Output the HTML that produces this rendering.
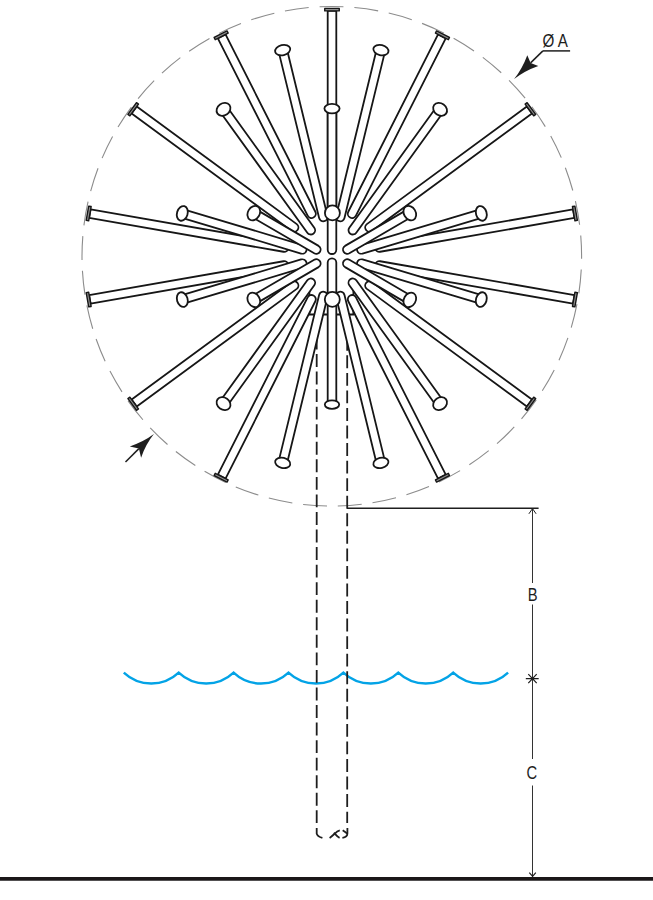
<!DOCTYPE html>
<html><head><meta charset="utf-8"><style>
html,body{margin:0;padding:0;background:#fff;}
body{width:653px;height:900px;overflow:hidden;}
svg{display:block;}
.t path,.t ellipse,.t circle,.t rect{fill:#fff;stroke:#161616;stroke-width:1.8;stroke-linejoin:round;}
.t rect.cap{fill:#8f8f8f;stroke-width:1.4;}
text{font-family:"Liberation Sans",sans-serif;fill:#1e1e1e;}
</style></head><body>
<svg width="653" height="900" viewBox="0 0 653 900">
<circle cx="331.8" cy="256.3" r="249.8" fill="none" stroke="#8c8c8c" stroke-width="1.1" stroke-dasharray="24 10.88" stroke-dashoffset="-13.36"/>
<!-- wave -->
<path d="M123.8,672.6 A40,40 0 0 0 178.7,672.6 A40,40 0 0 0 233.6,672.6 A40,40 0 0 0 288.5,672.6 A40,40 0 0 0 343.4,672.6 A40,40 0 0 0 398.3,672.6 A40,40 0 0 0 453.2,672.6 A40,40 0 0 0 508.1,672.6" fill="none" stroke="#03a3e6" stroke-width="2.4"/>
<!-- pipe -->
<g stroke="#1e1e1e" stroke-width="1.8" fill="none">
<path d="M316.7,300 V823" stroke-dasharray="12.9 4.65" stroke-dashoffset="-1.4"/>
<path d="M347.2,300 V823" stroke-dasharray="12.9 4.65" stroke-dashoffset="-2.7"/>
<path d="M316.7,827.9 V833.6 Q317.3,836.4 322.4,837.9"/>
<path d="M329.6,838 C332,836.5 334,834 335,833.5 C336.5,831.5 338,830.6 339.8,830.3"/>
<path d="M333.8,832.7 C335.5,834 336.5,836.5 339.6,837.8"/>
<path d="M342.4,837.8 C345.5,837.3 347.4,835.8 347.4,833.4 V827.9"/>
<path d="M342.7,830.3 L347.2,833.4"/>
</g>
<rect x="309.4" y="285" width="44" height="29.5" fill="#fff"/><path d="M309.4,285 V314.5 H353.4 V285" fill="none" stroke="#161616" stroke-width="1.8"/>
<g class="t">
<path d="M336.3,213L336.3,10.9L327.7,10.9L327.7,213A4.3,4.3 0 0 0 336.3,213Z"/>
<rect x="330.75" y="2.4" width="2.5" height="14.5" class="cap" transform="rotate(-90 332 9.65)"/>
<path d="M284.94,243.26L90.64,209.46L89.16,217.94L283.46,251.74A4.3,4.3 0 0 0 284.94,243.26Z"/>
<rect x="87.42" y="206.24" width="2.5" height="14.5" class="cap" transform="rotate(-170.13 88.67 213.49)"/>
<path d="M296.75,224.14L136.75,106.54L131.65,113.46L291.65,231.06A4.3,4.3 0 0 0 296.75,224.14Z"/>
<rect x="131.94" y="102.01" width="2.5" height="14.5" class="cap" transform="rotate(-143.68 133.19 109.26)"/>
<path d="M315.34,211.76L225.54,34.46L217.86,38.34L307.66,215.64A4.3,4.3 0 0 0 315.34,211.76Z"/>
<rect x="219.89" y="28.03" width="2.5" height="14.5" class="cap" transform="rotate(-116.86 221.14 35.28)"/>
<path d="M380.14,251.74L574.44,217.94L572.96,209.46L378.66,243.26A4.3,4.3 0 0 0 380.14,251.74Z"/>
<rect x="573.68" y="206.24" width="2.5" height="14.5" class="cap" transform="rotate(-9.87 574.93 213.49)"/>
<path d="M371.95,231.06L531.95,113.46L526.85,106.54L366.85,224.14A4.3,4.3 0 0 0 371.95,231.06Z"/>
<rect x="529.16" y="102.01" width="2.5" height="14.5" class="cap" transform="rotate(-36.32 530.41 109.26)"/>
<path d="M355.94,215.64L445.74,38.34L438.06,34.46L348.26,211.76A4.3,4.3 0 0 0 355.94,215.64Z"/>
<rect x="441.21" y="28.03" width="2.5" height="14.5" class="cap" transform="rotate(-63.14 442.46 35.28)"/>
<path d="M283.46,261.26L89.16,295.06L90.64,303.54L284.94,269.74A4.3,4.3 0 0 0 283.46,261.26Z"/>
<rect x="87.42" y="292.26" width="2.5" height="14.5" class="cap" transform="rotate(170.13 88.67 299.51)"/>
<path d="M291.65,281.94L131.65,399.54L136.75,406.46L296.75,288.86A4.3,4.3 0 0 0 291.65,281.94Z"/>
<rect x="131.94" y="396.49" width="2.5" height="14.5" class="cap" transform="rotate(143.68 133.19 403.74)"/>
<path d="M307.66,297.36L217.86,474.66L225.54,478.54L315.34,301.24A4.3,4.3 0 0 0 307.66,297.36Z"/>
<rect x="219.89" y="470.47" width="2.5" height="14.5" class="cap" transform="rotate(116.86 221.14 477.72)"/>
<path d="M378.66,269.74L572.96,303.54L574.44,295.06L380.14,261.26A4.3,4.3 0 0 0 378.66,269.74Z"/>
<rect x="573.68" y="292.26" width="2.5" height="14.5" class="cap" transform="rotate(9.87 574.93 299.51)"/>
<path d="M366.85,288.86L526.85,406.46L531.95,399.54L371.95,281.94A4.3,4.3 0 0 0 366.85,288.86Z"/>
<rect x="529.16" y="396.49" width="2.5" height="14.5" class="cap" transform="rotate(36.32 530.41 403.74)"/>
<path d="M348.26,301.24L438.06,478.54L445.74,474.66L355.94,297.36A4.3,4.3 0 0 0 348.26,301.24Z"/>
<rect x="441.21" y="470.47" width="2.5" height="14.5" class="cap" transform="rotate(63.14 442.46 477.72)"/>
<path d="M303.54,245.28L183.54,209.28L181.06,217.52L301.06,253.52A4.3,4.3 0 0 0 303.54,245.28Z"/>
<ellipse cx="182.3" cy="213.4" rx="7.5" ry="5.3" transform="rotate(-73.3 182.3 213.4)"/>
<path d="M318.57,245.89L255.97,209.39L251.63,216.81L314.23,253.31A4.3,4.3 0 0 0 318.57,245.89Z"/>
<ellipse cx="253.8" cy="213.1" rx="7.6" ry="5.9" transform="rotate(-59.75 253.8 213.1)"/>
<path d="M314.29,227.68L226.99,106.78L220.01,111.82L307.31,232.72A4.3,4.3 0 0 0 314.29,227.68Z"/>
<ellipse cx="223.5" cy="109.3" rx="7.4" ry="6" transform="rotate(-35.83 223.5 109.3)"/>
<path d="M327.48,215.98L286.88,49.08L278.52,51.12L319.12,218.02A4.3,4.3 0 0 0 327.48,215.98Z"/>
<ellipse cx="282.7" cy="50.1" rx="7.7" ry="5.1" transform="rotate(-13.67 282.7 50.1)"/>
<path d="M362.54,253.52L482.54,217.52L480.06,209.28L360.06,245.28A4.3,4.3 0 0 0 362.54,253.52Z"/>
<ellipse cx="481.3" cy="213.4" rx="7.5" ry="5.3" transform="rotate(73.3 481.3 213.4)"/>
<path d="M349.37,253.31L411.97,216.81L407.63,209.39L345.03,245.89A4.3,4.3 0 0 0 349.37,253.31Z"/>
<ellipse cx="409.8" cy="213.1" rx="7.6" ry="5.9" transform="rotate(59.75 409.8 213.1)"/>
<path d="M356.29,232.72L443.59,111.82L436.61,106.78L349.31,227.68A4.3,4.3 0 0 0 356.29,232.72Z"/>
<ellipse cx="440.1" cy="109.3" rx="7.4" ry="6" transform="rotate(35.83 440.1 109.3)"/>
<path d="M344.48,218.02L385.08,51.12L376.72,49.08L336.12,215.98A4.3,4.3 0 0 0 344.48,218.02Z"/>
<ellipse cx="380.9" cy="50.1" rx="7.7" ry="5.1" transform="rotate(13.67 380.9 50.1)"/>
<path d="M301.06,259.48L181.06,295.48L183.54,303.72L303.54,267.72A4.3,4.3 0 0 0 301.06,259.48Z"/>
<ellipse cx="182.3" cy="299.6" rx="7.5" ry="5.3" transform="rotate(253.3 182.3 299.6)"/>
<path d="M314.23,259.69L251.63,296.19L255.97,303.61L318.57,267.11A4.3,4.3 0 0 0 314.23,259.69Z"/>
<ellipse cx="253.8" cy="299.9" rx="7.6" ry="5.9" transform="rotate(239.75 253.8 299.9)"/>
<path d="M307.31,280.28L220.01,401.18L226.99,406.22L314.29,285.32A4.3,4.3 0 0 0 307.31,280.28Z"/>
<ellipse cx="223.5" cy="403.7" rx="7.4" ry="6" transform="rotate(215.83 223.5 403.7)"/>
<path d="M319.12,294.98L278.52,461.88L286.88,463.92L327.48,297.02A4.3,4.3 0 0 0 319.12,294.98Z"/>
<ellipse cx="282.7" cy="462.9" rx="7.7" ry="5.1" transform="rotate(193.67 282.7 462.9)"/>
<path d="M360.06,267.72L480.06,303.72L482.54,295.48L362.54,259.48A4.3,4.3 0 0 0 360.06,267.72Z"/>
<ellipse cx="481.3" cy="299.6" rx="7.5" ry="5.3" transform="rotate(106.7 481.3 299.6)"/>
<path d="M345.03,267.11L407.63,303.61L411.97,296.19L349.37,259.69A4.3,4.3 0 0 0 345.03,267.11Z"/>
<ellipse cx="409.8" cy="299.9" rx="7.6" ry="5.9" transform="rotate(120.25 409.8 299.9)"/>
<path d="M349.31,285.32L436.61,406.22L443.59,401.18L356.29,280.28A4.3,4.3 0 0 0 349.31,285.32Z"/>
<ellipse cx="440.1" cy="403.7" rx="7.4" ry="6" transform="rotate(144.17 440.1 403.7)"/>
<path d="M336.12,297.02L376.72,463.92L385.08,461.88L344.48,294.98A4.3,4.3 0 0 0 336.12,297.02Z"/>
<ellipse cx="380.9" cy="462.9" rx="7.7" ry="5.1" transform="rotate(166.33 380.9 462.9)"/>
<path d="M336.3,213L336.3,108.4L327.7,108.4L327.7,213A4.3,4.3 0 0 0 336.3,213Z"/>
<ellipse cx="332" cy="108.6" rx="7.6" ry="4.7"/>
<path d="M327.7,299.4L327.7,404.6L336.3,404.6L336.3,299.4A4.3,4.3 0 0 0 327.7,299.4Z"/>
<ellipse cx="332" cy="404.6" rx="7.2" ry="4.3"/>
<rect x="327.7" y="214" width="8.6" height="40" rx="4.3"/>
<rect x="327.7" y="258.3" width="8.6" height="40.2" rx="4.3"/>
<circle cx="332.4" cy="212.9" r="7.5"/>
<circle cx="332.3" cy="299.4" r="7.5"/>
</g>
<!-- dimension lines -->
<g stroke="#1e1e1e" fill="none">
<path d="M347,508.2 H538.6" stroke-width="1.4"/>
<path d="M532.5,508.5 V583 M532.5,604.5 V759 M532.5,785.5 V877" stroke-width="1" stroke="#333"/>
<path d="M528.9,513.8 L532.5,508.6 L536.1,513.8" stroke-width="1"/>
<path d="M528.3,674.2 L532.5,678.7 L536.7,674.2 M528.3,683.2 L532.5,678.7 L536.7,683.2 M525.8,678.7 H538.7" stroke-width="1.2"/>
<path d="M529.3,872.6 L532.6,876.4 L535.8,872.6" stroke-width="1.2"/>
</g>
<path d="M0,878.85 H653" stroke="#1b1718" stroke-width="3.9"/>
<!-- labels -->
<text x="0" y="0" font-size="18" transform="translate(527.8,600.8) scale(0.82,1)">B</text>
<text x="0" y="0" font-size="18" transform="translate(526.5,779.2) scale(0.82,1)">C</text>
<text x="0" y="0" font-size="19" transform="translate(542.5,47.3) scale(0.8,1)">Ø A</text>
<path d="M542.9,50.9 H570.1" stroke="#1e1e1e" stroke-width="1.5"/>
<path d="M542.9,50.9 L530.6,62.9" stroke="#1e1e1e" stroke-width="1.5"/>
<path d="M514.1,79 Q522.3,68.7 527.3,55.2 L530.6,62.9 L538.3,65.9 Q524.5,70.75 514.1,79 Z" fill="#1e1e1e"/>
<path d="M125.5,462 L138.9,448.6" stroke="#1e1e1e" stroke-width="1.5"/>
<path d="M153.9,434.1 Q143.5,441.95 129.8,446.4 L138.9,448.6 L141.1,457.7 Q145.8,444.16 153.9,434.1 Z" fill="#1e1e1e"/>
</svg>
</body></html>
